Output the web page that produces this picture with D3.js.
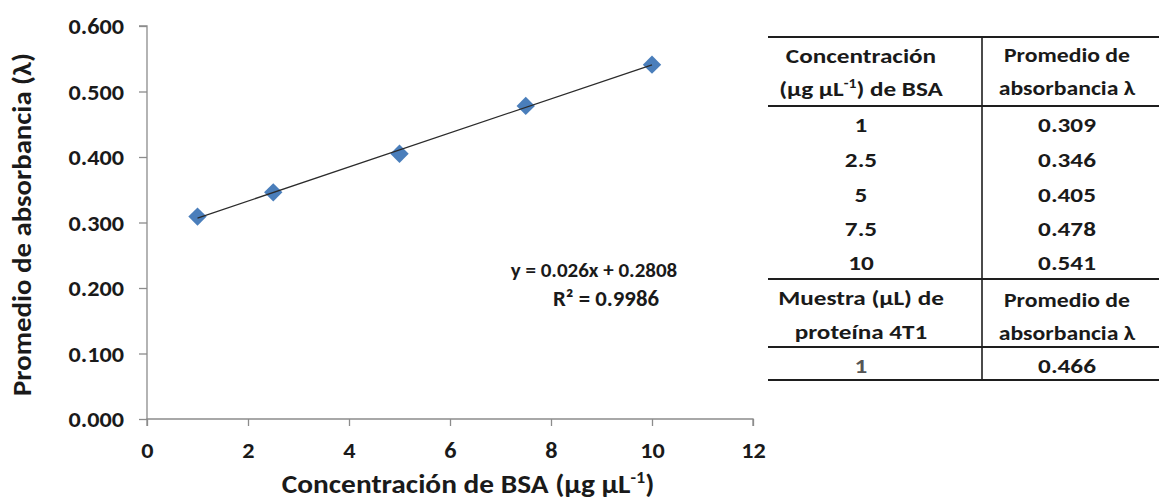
<!DOCTYPE html>
<html>
<head>
<meta charset="utf-8">
<script src="https://cdn.jsdelivr.net/npm/d3@7"></script>
<style>
  html, body { margin: 0; padding: 0; background: #fff; }
  svg text { font-family: Carlito, Calibri, Lato, "Open Sans", sans-serif; font-weight: bold; fill: #1a1a1a; }
</style>
</head>
<body>
<svg id="chart" width="1159" height="502"></svg>
<script>
// BSA standard curve: concentration (µg µL-1) vs mean absorbance
const concentrations = [1, 2.5, 5, 7.5, 10];
const absorbances = [0.309, 0.346, 0.405, 0.478, 0.541];
const concLabels = ["1", "2.5", "5", "7.5", "10"];

// Linear fit reported on the chart
const slope = 0.026;
const intercept = 0.2808;
const rSquared = 0.9986;

// 4T1 protein sample
const sampleVolumes = ["1"];
const sampleAbsorbances = [0.466];

const xTicks = [0, 2, 4, 6, 8, 10, 12];
const yTicks = [0, 0.1, 0.2, 0.3, 0.4, 0.5, 0.6];

const svg = d3.select("#chart");
const plot = { left: 147, right: 753, top: 26, bottom: 419 };

const x = d3.scaleLinear().domain([0, 12]).range([plot.left, plot.right]);
const y = d3.scaleLinear().domain([0, 0.6]).range([plot.bottom, plot.top]);

const axisColor = "#8c8c8c";
const tickFont = 22, tickStretch = 1.1;

// Y axis
const yAxis = svg.append("g")
  .attr("transform", `translate(${plot.left},0)`)
  .call(d3.axisLeft(y).tickValues(yTicks).tickFormat(d3.format(".3f")).tickSize(8));
// X axis
const xAxis = svg.append("g")
  .attr("transform", `translate(0,${plot.bottom})`)
  .call(d3.axisBottom(x).tickValues(xTicks).tickFormat(d3.format("d")).tickSize(7));

[yAxis, xAxis].forEach(g => {
  g.select(".domain").attr("stroke", axisColor).attr("stroke-width", 1.3);
  g.selectAll(".tick line").attr("stroke", axisColor).attr("stroke-width", 1.3);
  g.selectAll(".tick text").attr("font-size", tickFont).attr("fill", "#1a1a1a")
    .attr("font-family", null);
});
yAxis.select(".domain").attr("d", `M-8,${plot.top}H0V${plot.bottom}`);
xAxis.select(".domain").attr("d", `M${plot.left},7V0H${plot.right}V7`);
yAxis.selectAll(".tick text")
  .attr("x", 0).attr("dy", "0.36em")
  .attr("transform", `translate(-23,0) scale(${tickStretch},1)`);
xAxis.selectAll(".tick text")
  .attr("y", 0).attr("dy", 0)
  .attr("transform", `translate(0,39) scale(${tickStretch},1)`);

// Axis titles
const titleFont = 26, titleStretch = 1.13;
svg.append("text")
  .attr("transform", `translate(${(plot.left + plot.right) / 2 + 18},493) scale(${titleStretch},1)`)
  .attr("text-anchor", "middle")
  .attr("font-size", titleFont)
  .html('Concentración de BSA (µg µL<tspan dy="-10" font-size="16">-1</tspan><tspan dy="10">)</tspan>');

svg.append("text")
  .attr("transform", `translate(31,${(plot.top + plot.bottom) / 2 + 2}) rotate(-90) scale(${titleStretch * 0.98},1)`)
  .attr("text-anchor", "middle")
  .attr("font-size", titleFont)
  .text("Promedio de absorbancia (λ)");

// Trendline from the reported fit
const fit = v => slope * v + intercept;
const xMin = d3.min(concentrations), xMax = d3.max(concentrations);

// Data points (diamonds)
const diamond = d3.symbol().type(d3.symbolDiamond2).size(215);
svg.append("g").selectAll("path")
  .data(concentrations.map((c, i) => [c, absorbances[i]]))
  .join("path")
  .attr("d", diamond)
  .attr("transform", d => `translate(${x(d[0])},${y(d[1])})`)
  .attr("fill", "#4a7ebb");

svg.append("line")
  .attr("x1", x(xMin)).attr("y1", y(fit(xMin)))
  .attr("x2", x(xMax)).attr("y2", y(fit(xMax)))
  .attr("stroke", "#2b2b2b")
  .attr("stroke-width", 1.3);

// Equation label
svg.append("text")
  .attr("transform", "translate(594,277)")
  .attr("text-anchor", "middle")
  .attr("font-size", 21)
  .text(`y = ${slope}x + ${intercept}`);
svg.append("text")
  .attr("transform", "translate(606,306) scale(1.06,1)")
  .attr("text-anchor", "middle")
  .attr("font-size", 21.5)
  .text(`R² = ${rSquared}`);

// Data table
const tbl = svg.append("g");
const colL = 768, colMid = 982, colR = 1159;
const c1 = 861, c2 = 1067;
const lineColor = "#1e1e1e";
const hLines = [37, 106, 279, 347, 380];
hLines.forEach(yy => tbl.append("line")
  .attr("x1", colL).attr("x2", colR).attr("y1", yy).attr("y2", yy)
  .attr("stroke", lineColor).attr("stroke-width", 2));
tbl.append("line")
  .attr("x1", colMid).attr("x2", colMid).attr("y1", 37).attr("y2", 380)
  .attr("stroke", lineColor).attr("stroke-width", 1.6);

const tFont = 21, tStretch = 1.2;
function cell(cx, cy, content, fill, stretch) {
  const t = tbl.append("text")
    .attr("transform", `translate(${cx},${cy}) scale(${stretch || tStretch},1)`)
    .attr("text-anchor", "middle").attr("font-size", tFont);
  if (fill) t.style("fill", fill);
  t.html(content);
  return t;
}
cell(c1, 63, "Concentración");
cell(c1, 96, '(µg µL<tspan dy="-8" font-size="13">-1</tspan><tspan dy="8">) de BSA</tspan>');
cell(c2, 62, "Promedio de", null, 1.13);
cell(c2, 95, "absorbancia λ", null, 1.13);

const rowBase = [132, 167, 202, 236, 270];
concLabels.forEach((lab, i) => {
  cell(c1, rowBase[i], lab);
  cell(c2, rowBase[i], absorbances[i].toFixed(3));
});

cell(c1, 305, "Muestra (µL) de");
cell(c1, 339, "proteína 4T1");
cell(c2, 307, "Promedio de", null, 1.13);
cell(c2, 340, "absorbancia λ", null, 1.13);

sampleVolumes.forEach((v, i) => {
  cell(c1, 373 + i * 34, v, "#555");
  cell(c2, 373 + i * 34, sampleAbsorbances[i].toFixed(3));
});
</script>
</body>
</html>
